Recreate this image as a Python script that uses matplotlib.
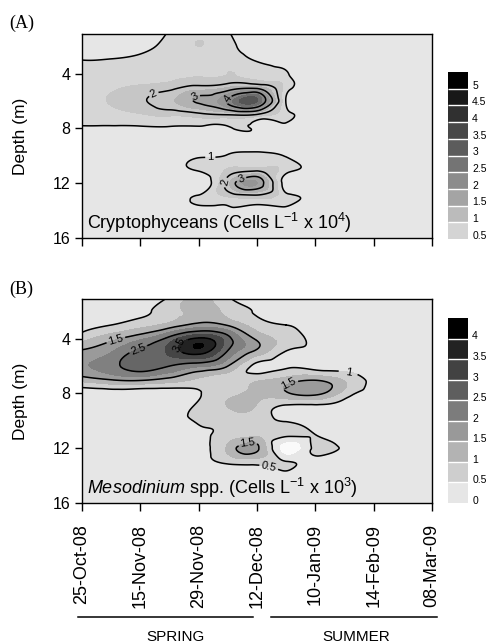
import numpy as np
import matplotlib
matplotlib.use("Agg")
import matplotlib.pyplot as plt
import matplotlib.tri as mtri
from matplotlib.colors import ListedColormap, BoundaryNorm
from matplotlib.cm import ScalarMappable
from matplotlib.lines import Line2D

plt.rcParams['font.family'] = ['Liberation Sans', 'DejaVu Sans']
plt.rcParams['mathtext.fontset'] = 'custom'
plt.rcParams['mathtext.rm'] = 'Liberation Sans'
plt.rcParams['mathtext.it'] = 'Liberation Sans:italic'

# ---------------- data ----------------
date_labels = ['25-Oct-08', '15-Nov-08', '29-Nov-08', '12-Dec-08',
               '10-Jan-09', '14-Feb-09', '08-Mar-09']
# grid columns (in sampling-date index units, half steps) and depths (m)
grid_x = [0, 0.5, 1, 1.5, 2, 2.5, 3, 3.5, 4, 4.5, 5, 5.5, 6]
depths = [1, 2, 3, 4, 5, 6, 7, 8, 9, 10, 11, 12, 13, 14, 15, 16]

# Cryptophyceans (cells L-1 x 10^4), rows = depths, cols = grid_x
crypto = [
    [0.50, 0.50, 0.60, 1.05, 1.40, 1.05, 0.50, 0.40, 0.30, 0.30, 0.30, 0.30, 0.30],
    [0.70, 0.75, 0.85, 1.20, 1.50, 1.15, 0.75, 0.50, 0.35, 0.30, 0.30, 0.30, 0.30],
    [1.00, 1.02, 1.10, 1.30, 1.40, 1.30, 0.95, 0.70, 0.50, 0.30, 0.30, 0.30, 0.30],
    [1.15, 1.20, 1.25, 1.35, 1.45, 1.50, 1.30, 1.05, 0.60, 0.30, 0.30, 0.30, 0.30],
    [1.30, 1.40, 1.60, 1.80, 2.20, 2.50, 2.70, 1.30, 0.70, 0.35, 0.30, 0.30, 0.30],
    [1.35, 1.55, 1.90, 2.40, 3.10, 4.10, 5.00, 0.95, 0.55, 0.30, 0.30, 0.30, 0.30],
    [1.25, 1.30, 1.45, 1.60, 1.80, 2.00, 1.90, 1.20, 0.65, 0.30, 0.30, 0.30, 0.30],
    [0.90, 0.90, 0.90, 0.92, 0.93, 0.95, 0.90, 0.75, 0.50, 0.30, 0.30, 0.30, 0.30],
    [0.40, 0.40, 0.40, 0.40, 0.55, 0.70, 0.72, 0.60, 0.40, 0.30, 0.30, 0.30, 0.30],
    [0.35, 0.35, 0.35, 0.50, 0.90, 1.05, 1.05, 0.95, 0.60, 0.30, 0.30, 0.30, 0.30],
    [0.30, 0.30, 0.30, 0.60, 1.08, 1.55, 1.75, 1.28, 0.70, 0.30, 0.30, 0.30, 0.30],
    [0.30, 0.30, 0.30, 0.35, 0.50, 2.30, 3.50, 0.60, 0.45, 0.30, 0.30, 0.30, 0.30],
    [0.30, 0.30, 0.30, 0.60, 1.08, 1.50, 1.70, 1.25, 0.70, 0.30, 0.30, 0.30, 0.30],
    [0.30, 0.30, 0.30, 0.40, 0.70, 0.85, 0.85, 0.70, 0.40, 0.30, 0.30, 0.30, 0.30],
    [0.30, 0.30, 0.30, 0.30, 0.30, 0.30, 0.30, 0.30, 0.30, 0.30, 0.30, 0.30, 0.30],
    [0.30, 0.30, 0.30, 0.30, 0.30, 0.30, 0.30, 0.30, 0.30, 0.30, 0.30, 0.30, 0.30],
]

# Mesodinium spp. (cells L-1 x 10^3)
meso = [
    [0.25, 0.25, 0.30, 0.55, 1.15, 0.55, 0.40, 0.30, 0.25, 0.25, 0.25, 0.25, 0.25],
    [0.25, 0.30, 0.40, 0.80, 1.15, 0.85, 0.45, 0.30, 0.25, 0.25, 0.25, 0.25, 0.25],
    [0.30, 0.50, 0.80, 1.20, 1.70, 1.45, 0.75, 0.50, 0.30, 0.25, 0.25, 0.25, 0.25],
    [0.80, 1.35, 1.90, 2.70, 3.60, 2.70, 1.40, 0.80, 0.35, 0.25, 0.25, 0.25, 0.25],
    [1.65, 2.00, 2.70, 3.10, 3.70, 2.40, 1.30, 0.45, 0.30, 0.25, 0.25, 0.25, 0.25],
    [1.95, 2.30, 2.80, 2.50, 2.10, 1.50, 0.35, 0.40, 0.25, 0.25, 0.25, 0.25, 0.25],
    [1.20, 1.50, 1.60, 1.30, 0.90, 0.65, 0.90, 1.20, 1.45, 0.95, 0.40, 0.25, 0.25],
    [0.20, 0.20, 0.20, 0.20, 0.45, 0.85, 1.10, 1.40, 1.65, 0.80, 0.30, 0.25, 0.25],
    [0.25, 0.25, 0.25, 0.30, 0.60, 1.00, 0.95, 0.35, 0.30, 0.25, 0.25, 0.25, 0.25],
    [0.25, 0.25, 0.25, 0.30, 0.55, 0.70, 0.70, 0.45, 0.30, 0.25, 0.25, 0.25, 0.25],
    [0.25, 0.25, 0.25, 0.25, 0.40, 0.70, 0.85, 0.70, 0.50, 0.30, 0.25, 0.25, 0.25],
    [0.25, 0.25, 0.25, 0.25, 0.35, 1.10, 1.60, -0.30, 0.65, 0.35, 0.25, 0.25, 0.25],
    [0.25, 0.25, 0.25, 0.25, 0.30, 0.60, 0.70, 0.55, 0.25, 0.25, 0.25, 0.25, 0.25],
    [0.25, 0.25, 0.25, 0.25, 0.25, 0.30, 0.35, 0.25, 0.25, 0.25, 0.25, 0.25, 0.25],
    [0.25, 0.25, 0.25, 0.25, 0.25, 0.25, 0.25, 0.25, 0.25, 0.25, 0.25, 0.25, 0.25],
    [0.25, 0.25, 0.25, 0.25, 0.25, 0.25, 0.25, 0.25, 0.25, 0.25, 0.25, 0.25, 0.25],
]

# colour scales
crypto_cbar_levels = [0.5, 1, 1.5, 2, 2.5, 3, 3.5, 4, 4.5, 5]
crypto_cbar_colors = ['#d4d4d4', '#bbbbbb', '#a4a4a4', '#8c8c8c', '#747474',
                      '#5c5c5c', '#484848', '#303030', '#181818', '#000000']
meso_cbar_levels = [0, 0.5, 1, 1.5, 2, 2.5, 3, 3.5, 4]
meso_cbar_colors = ['#e6e6e6', '#cecece', '#b3b3b3', '#999999', '#7c7c7c',
                    '#5e5e5e', '#424242', '#222222', '#000000']

crypto_fill_levels = [-10, 1, 1.5, 2.5, 3, 3.5, 4, 4.5, 5, 20]
crypto_fill_colors = ['#e6e6e6', '#d6d6d6', '#c6c6c6', '#b2b2b2', '#a2a2a2',
                      '#959595', '#858585', '#6e6e6e', '#555555']
crypto_line_levels = [1, 2, 3, 4]

meso_fill_levels = [-10, 0, 0.5, 1, 1.5, 2, 2.5, 3, 3.5, 4, 20]
meso_fill_colors = ['#fafafa', '#e6e6e6', '#d0d0d0', '#b5b5b5', '#9a9a9a',
                    '#808080', '#666666', '#454545', '#222222', '#000000']
meso_line_levels = [0.5, 1.5, 2.5, 3.5]


def smooth(z):
    X, Y = np.meshgrid(grid_x, depths)
    tri = mtri.Triangulation(X.ravel(), Y.ravel())
    interp = mtri.CubicTriInterpolator(tri, np.asarray(z, float).ravel(), kind='min_E')
    xf = np.linspace(grid_x[0], grid_x[-1], 361)
    yf = np.linspace(depths[0], depths[-1], 451)
    XF, YF = np.meshgrid(xf, yf)
    return XF, YF, interp(XF, YF)


W, H = 494, 643
fig = plt.figure(figsize=(W / 100, H / 100), dpi=100)


def fx(px):
    return px / W


def fy(py):
    return 1 - py / H


axA = fig.add_axes([fx(82), fy(238), fx(350), 204 / H])
axB = fig.add_axes([fx(82), fy(503), fx(350), 204 / H])

for ax in (axA, axB):
    ax.set_xlim(0, 6)
    ax.set_ylim(16, 1.1)
    ax.set_yticks([4, 8, 12, 16])
    ax.set_xticks(range(len(date_labels)))
    ax.tick_params(direction='out', length=5, width=1, labelsize=11.5)
    ax.tick_params(axis='x', length=6, pad=9)
    for s in ax.spines.values():
        s.set_linewidth(1)
    ax.set_ylabel('Depth (m)', fontsize=12.5)
    ax.yaxis.set_label_coords(-0.155, 0.5)

axA.set_xticklabels([])
axB.set_xticklabels(date_labels, rotation=90, fontsize=13)

# Panel A
XF, YF, ZA = smooth(crypto)
axA.contourf(XF, YF, ZA, levels=crypto_fill_levels, colors=crypto_fill_colors)
csA = axA.contour(XF, YF, ZA, levels=crypto_line_levels, colors='black', linewidths=1.1)
axA.clabel(csA, fmt='%g', fontsize=8, inline=True, inline_spacing=2,
           manual=[(1.22, 5.4), (1.94, 5.7), (2.45, 5.7), (2.2, 10.1),
                   (2.4, 11.9), (2.75, 11.9)])
axA.text(0.015, 0.015, r'Cryptophyceans (Cells L$^{\mathregular{-1}}$ x 10$^{\mathregular{4}}$)',
         transform=axA.transAxes, fontsize=13, ha='left', va='bottom')

# Panel B
XF, YF, ZB = smooth(meso)
axB.contourf(XF, YF, ZB, levels=meso_fill_levels, colors=meso_fill_colors)
csB = axB.contour(XF, YF, ZB, levels=meso_line_levels, colors='black', linewidths=1.1)
labsB = axB.clabel(csB, fmt='%g', fontsize=8, inline=True, inline_spacing=2,
                   manual=[(0.57, 3.95), (0.95, 4.6), (1.7, 4.5), (3.55, 7.35),
                           (2.85, 11.8), (3.2, 13.4), (4.55, 6.85)])
for t in labsB:
    x, y = t.get_position()
    if x > 4.2 and y < 8:
        t.set_text('1')
axB.text(0.015, 0.015, r'$\mathit{Mesodinium}$ spp. (Cells L$^{\mathregular{-1}}$ x 10$^{\mathregular{3}}$)',
         transform=axB.transAxes, fontsize=13, ha='left', va='bottom')


def add_cbar(rect, levels, colors, frac):
    cax = fig.add_axes(rect)
    step = levels[1] - levels[0]
    bounds = list(levels) + [levels[-1] + step]
    sm = ScalarMappable(norm=BoundaryNorm(bounds, len(colors)), cmap=ListedColormap(colors))
    ticks = [v + step * frac for v in levels]
    cb = fig.colorbar(sm, cax=cax, boundaries=bounds, ticks=ticks, drawedges=True)
    cb.set_ticklabels(['%g' % v for v in levels])
    cb.minorticks_off()
    cb.outline.set_visible(False)
    cb.dividers.set_color('white')
    cb.dividers.set_linewidth(1.0)
    cax.tick_params(which='both', length=0, width=0, labelsize=7.5, pad=3)
    return cb


add_cbar([fx(448), fy(239), fx(20), 167 / H], crypto_cbar_levels, crypto_cbar_colors, 0.25)
add_cbar([fx(448), fy(503), fx(20), 185 / H], meso_cbar_levels, meso_cbar_colors, 0.15)

# panel letters
fig.text(fx(9), fy(28), '(A)', fontsize=13, family=['Liberation Serif', 'DejaVu Serif'])
fig.text(fx(9), fy(294), '(B)', fontsize=13, family=['Liberation Serif', 'DejaVu Serif'])

# season bars
fig.add_artist(Line2D([fx(78), fx(253)], [fy(617), fy(617)], color='black', lw=1.1,
                      transform=fig.transFigure))
fig.add_artist(Line2D([fx(271), fx(437)], [fy(617), fy(617)], color='black', lw=1.1,
                      transform=fig.transFigure))
fig.text(fx(175), fy(641), 'SPRING', fontsize=11, ha='center', va='baseline')
fig.text(fx(356), fy(641), 'SUMMER', fontsize=11, ha='center', va='baseline')

fig.savefig('out.png', dpi=100)
